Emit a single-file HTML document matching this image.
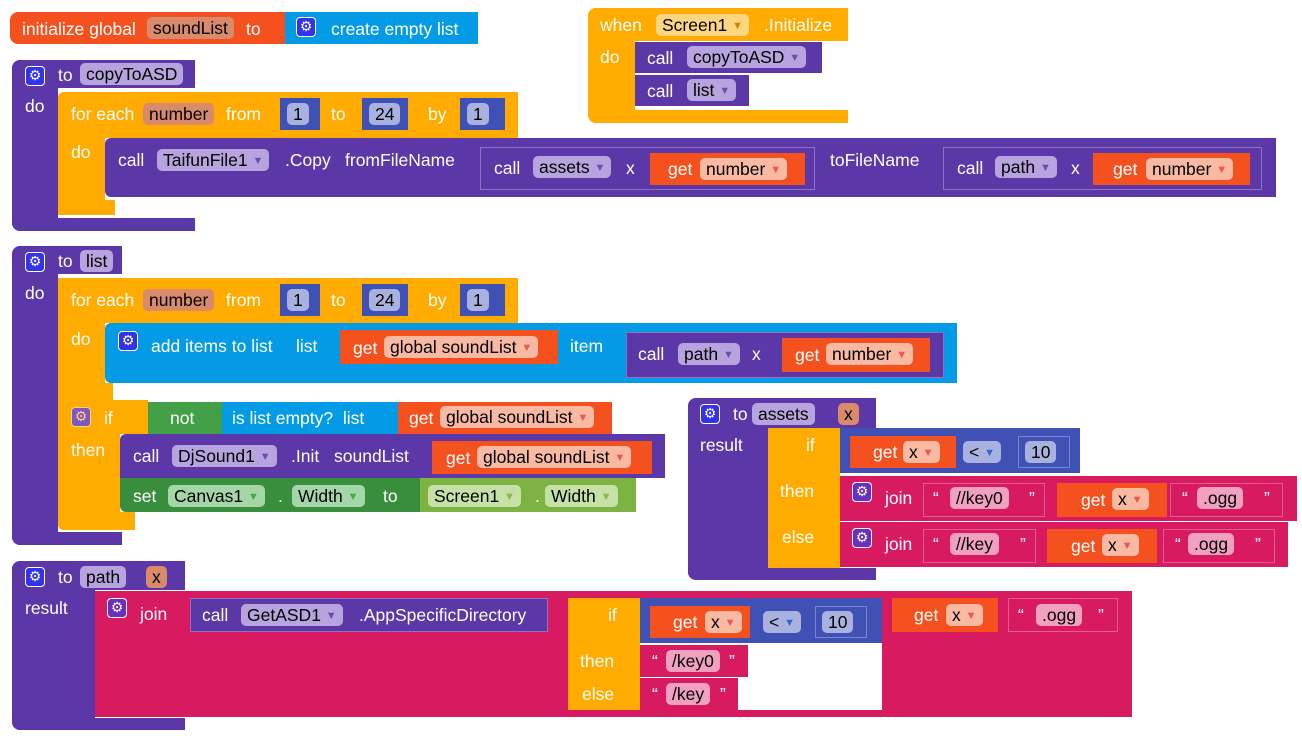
<!DOCTYPE html>
<html><head><meta charset="utf-8"><style>
body{margin:0;width:1302px;height:739px;background:#fff;position:relative;overflow:hidden;font-family:"Liberation Sans",sans-serif}
.r{position:absolute}
.t{position:absolute;color:#fff;font-size:17.5px;line-height:20px;white-space:nowrap}
.p{position:absolute;height:22px;line-height:22px;border-radius:5px;color:#000;font-size:17.5px;padding:0 6px;white-space:nowrap}
.p small{font-size:11px;color:#6a50a8;vertical-align:2px}
.g{position:absolute;width:18px;height:18px;border:1px solid #fff;border-radius:4px;background:#3333ee;color:#fff;font:14px/18px "DejaVu Sans",sans-serif;text-align:center}
.gp{background:#6a2fc0}
.pu{background:#5b37a8}.or{background:#ffab00}.vo{background:#f4511e}.bl{background:#039be5}
.ma{background:#3f51b5}.pk{background:#d81b60}.gr{background:#388e3c}.lg{background:#7cb342}
.in{border:1px solid rgba(255,255,255,.3);box-sizing:border-box}
.pl{background:#b7a4de}.pn{background:#d98a6b}.pg{background:#f9b9a3}.pm{background:#a9b2de}.ps{background:#f1a0bf}
.pgr{background:#a5d6a7}.plg{background:#c5e1a5}.py{background:#ffd680}
</style></head><body>

<!-- init global -->
<div class="r vo" style="left:10px;top:12px;width:275px;height:32px;border-radius:8px 0 0 8px"></div>
<div class="t" style="left:22px;top:19px">initialize global</div>
<div class="p pn" style="left:147px;top:17px">soundList</div>
<div class="t" style="left:246px;top:19px">to</div>
<div class="r bl" style="left:285px;top:12px;width:193px;height:32px"></div>
<div class="g" style="left:296px;top:17px">⚙</div>
<div class="t" style="left:331px;top:19px">create empty list</div>

<!-- copyToASD -->
<div class="r pu" style="left:12px;top:60px;width:183px;height:28px;border-radius:8px 0 0 0"></div>
<div class="r pu" style="left:12px;top:60px;width:46px;height:171px;border-radius:8px 0 0 8px"></div>
<div class="r pu" style="left:12px;top:218px;width:183px;height:13px;border-radius:0 0 0 8px"></div>
<div class="g" style="left:25px;top:66px">⚙</div>
<div class="t" style="left:58px;top:65px">to</div>
<div class="p pl" style="left:80px;top:63px">copyToASD</div>
<div class="t" style="left:25px;top:96px">do</div>
<div class="r or" style="left:58px;top:92px;width:460px;height:46px;border-radius:6px 0 0 0"></div>
<div class="r or" style="left:58px;top:92px;width:47px;height:123px;border-radius:6px 0 0 6px"></div>
<div class="r or" style="left:58px;top:200px;width:57px;height:15px"></div>
<div class="t" style="left:71px;top:104px">for each</div>
<div class="p pn" style="left:143px;top:103px">number</div>
<div class="t" style="left:226px;top:104px">from</div>
<div class="r ma" style="left:280px;top:98px;width:40px;height:32px"></div><div class="p pm" style="left:287px;top:103px">1</div>
<div class="t" style="left:331px;top:104px">to</div>
<div class="r ma" style="left:362px;top:98px;width:46px;height:32px"></div><div class="p pm" style="left:369px;top:103px">24</div>
<div class="t" style="left:428px;top:104px">by</div>
<div class="r ma" style="left:460px;top:98px;width:45px;height:32px"></div><div class="p pm" style="left:467px;top:103px">1</div>
<div class="t" style="left:71px;top:142px">do</div>
<div class="r pu" style="left:105px;top:138px;width:1171px;height:59px;border-radius:6px 0 0 6px"></div>
<div class="t" style="left:118px;top:150px">call</div>
<div class="p pl" style="left:157px;top:149px">TaifunFile1 <small>▼</small></div>
<div class="t" style="left:285px;top:150px">.Copy</div>
<div class="t" style="left:345px;top:150px">fromFileName</div>
<div class="r pu in" style="left:480px;top:147px;width:335px;height:43px"></div>
<div class="t" style="left:494px;top:158px">call</div>
<div class="p pl" style="left:533px;top:156px">assets <small>▼</small></div>
<div class="t" style="left:626px;top:158px">x</div>
<div class="r vo" style="left:650px;top:153px;width:155px;height:32px"></div>
<div class="t" style="left:668px;top:159px">get</div>
<div class="p pg" style="left:700px;top:158px">number <small style="color:#e55">▼</small></div>
<div class="t" style="left:830px;top:150px">toFileName</div>
<div class="r pu in" style="left:943px;top:147px;width:319px;height:43px"></div>
<div class="t" style="left:957px;top:158px">call</div>
<div class="p pl" style="left:995px;top:156px">path <small>▼</small></div>
<div class="t" style="left:1071px;top:158px">x</div>
<div class="r vo" style="left:1093px;top:153px;width:157px;height:32px"></div>
<div class="t" style="left:1113px;top:159px">get</div>
<div class="p pg" style="left:1146px;top:158px">number <small style="color:#e55">▼</small></div>

<!-- when Screen1.Initialize -->
<div class="r or" style="left:588px;top:8px;width:260px;height:33px;border-radius:8px 0 0 0"></div>
<div class="r or" style="left:588px;top:8px;width:47px;height:115px;border-radius:8px 0 0 8px"></div>
<div class="r or" style="left:588px;top:110px;width:260px;height:13px;border-radius:0 0 0 8px"></div>
<div class="t" style="left:600px;top:15px">when</div>
<div class="p py" style="left:656px;top:14px">Screen1 <small style="color:#c80">▼</small></div>
<div class="t" style="left:764px;top:15px">.Initialize</div>
<div class="t" style="left:600px;top:47px">do</div>
<div class="r pu" style="left:635px;top:42px;width:187px;height:31px"></div>
<div class="t" style="left:647px;top:48px">call</div>
<div class="p pl" style="left:687px;top:46px">copyToASD <small>▼</small></div>
<div class="r pu" style="left:635px;top:75px;width:114px;height:31px"></div>
<div class="t" style="left:647px;top:81px">call</div>
<div class="p pl" style="left:687px;top:79px">list <small>▼</small></div>

<!-- to list -->
<div class="r pu" style="left:12px;top:246px;width:110px;height:28px;border-radius:8px 0 0 0"></div>
<div class="r pu" style="left:12px;top:246px;width:46px;height:299px;border-radius:8px 0 0 8px"></div>
<div class="r pu" style="left:12px;top:532px;width:110px;height:13px;border-radius:0 0 0 8px"></div>
<div class="g" style="left:25px;top:252px">⚙</div>
<div class="t" style="left:58px;top:251px">to</div>
<div class="p pl" style="left:80px;top:250px">list</div>
<div class="t" style="left:25px;top:283px">do</div>
<div class="r or" style="left:58px;top:278px;width:460px;height:45px;border-radius:6px 0 0 0"></div>
<div class="r or" style="left:58px;top:278px;width:47px;height:122px"></div>
<div class="r or" style="left:58px;top:383px;width:55px;height:17px"></div>
<div class="t" style="left:71px;top:290px">for each</div>
<div class="p pn" style="left:143px;top:289px">number</div>
<div class="t" style="left:226px;top:290px">from</div>
<div class="r ma" style="left:280px;top:284px;width:40px;height:32px"></div><div class="p pm" style="left:287px;top:289px">1</div>
<div class="t" style="left:331px;top:290px">to</div>
<div class="r ma" style="left:362px;top:284px;width:46px;height:32px"></div><div class="p pm" style="left:369px;top:289px">24</div>
<div class="t" style="left:428px;top:290px">by</div>
<div class="r ma" style="left:460px;top:284px;width:45px;height:32px"></div><div class="p pm" style="left:467px;top:289px">1</div>
<div class="t" style="left:71px;top:329px">do</div>
<div class="r bl" style="left:105px;top:323px;width:852px;height:60px;border-radius:6px 0 0 6px"></div>
<div class="g" style="left:118px;top:331px">⚙</div>
<div class="t" style="left:151px;top:336px">add items to list</div>
<div class="t" style="left:296px;top:336px">list</div>
<div class="r vo" style="left:340px;top:330px;width:218px;height:34px"></div>
<div class="t" style="left:353px;top:338px">get</div>
<div class="p pg" style="left:384px;top:336px">global soundList <small style="color:#e55">▼</small></div>
<div class="t" style="left:570px;top:336px">item</div>
<div class="r pu in" style="left:626px;top:332px;width:318px;height:46px"></div>
<div class="t" style="left:638px;top:344px">call</div>
<div class="p pl" style="left:678px;top:343px">path <small>▼</small></div>
<div class="t" style="left:752px;top:344px">x</div>
<div class="r vo" style="left:782px;top:338px;width:148px;height:34px"></div>
<div class="t" style="left:795px;top:345px">get</div>
<div class="p pg" style="left:826px;top:343px">number <small style="color:#e55">▼</small></div>

<div class="r or" style="left:58px;top:400px;width:90px;height:34px"></div>
<div class="r or" style="left:58px;top:400px;width:62px;height:130px;border-radius:0 0 0 6px"></div>
<div class="r or" style="left:58px;top:512px;width:77px;height:18px;border-radius:0 0 0 6px"></div>
<div class="g" style="left:71px;top:407px;background:#7e57c2;border-color:#ffd07a;color:#ffd07a">⚙</div>
<div class="t" style="left:104px;top:408px">if</div>
<div class="t" style="left:71px;top:440px">then</div>
<div class="r" style="left:148px;top:402px;width:74px;height:32px;background:#43a047"></div>
<div class="t" style="left:170px;top:408px">not</div>
<div class="r bl" style="left:222px;top:402px;width:176px;height:32px"></div>
<div class="t" style="left:232px;top:408px">is list empty?&nbsp; list</div>
<div class="r vo" style="left:398px;top:402px;width:214px;height:32px"></div>
<div class="t" style="left:409px;top:408px">get</div>
<div class="p pg" style="left:440px;top:406px">global soundList <small style="color:#e55">▼</small></div>
<div class="r pu" style="left:120px;top:434px;width:545px;height:44px;border-radius:6px 0 0 0"></div>
<div class="t" style="left:133px;top:446px">call</div>
<div class="p pl" style="left:172px;top:445px">DjSound1 <small>▼</small></div>
<div class="t" style="left:291px;top:446px">.Init</div>
<div class="t" style="left:334px;top:446px">soundList</div>
<div class="r vo" style="left:432px;top:441px;width:220px;height:33px"></div>
<div class="t" style="left:446px;top:448px">get</div>
<div class="p pg" style="left:477px;top:446px">global soundList <small style="color:#e55">▼</small></div>
<div class="r gr" style="left:120px;top:478px;width:300px;height:34px;border-radius:0 0 0 6px"></div>
<div class="t" style="left:133px;top:486px">set</div>
<div class="p pgr" style="left:168px;top:485px">Canvas1 <small style="color:#4a4">▼</small></div>
<div class="t" style="left:278px;top:486px">.</div>
<div class="p pgr" style="left:292px;top:485px">Width <small style="color:#4a4">▼</small></div>
<div class="t" style="left:383px;top:486px">to</div>
<div class="r lg" style="left:420px;top:478px;width:216px;height:34px"></div>
<div class="p plg" style="left:428px;top:485px">Screen1 <small style="color:#8b4">▼</small></div>
<div class="t" style="left:535px;top:486px">.</div>
<div class="p plg" style="left:545px;top:485px">Width <small style="color:#8b4">▼</small></div>

<!-- assets -->
<div class="r pu" style="left:688px;top:398px;width:188px;height:30px;border-radius:8px 0 0 0"></div>
<div class="r pu" style="left:688px;top:398px;width:80px;height:182px;border-radius:8px 0 0 8px"></div>
<div class="r pu" style="left:688px;top:568px;width:188px;height:12px;border-radius:0 0 0 8px"></div>
<div class="g" style="left:700px;top:404px">⚙</div>
<div class="t" style="left:733px;top:404px">to</div>
<div class="p pl" style="left:752px;top:403px">assets</div>
<div class="p pn" style="left:838px;top:403px">x</div>
<div class="t" style="left:700px;top:435px">result</div>
<div class="r or" style="left:768px;top:428px;width:72px;height:140px"></div>
<div class="t" style="left:806px;top:435px">if</div>
<div class="t" style="left:780px;top:481px">then</div>
<div class="t" style="left:782px;top:527px">else</div>
<div class="r ma" style="left:840px;top:428px;width:240px;height:45px"></div>
<div class="r vo" style="left:850px;top:436px;width:106px;height:32px"></div>
<div class="t" style="left:873px;top:442px">get</div>
<div class="p pg" style="left:903px;top:441px">x <small style="color:#e55">▼</small></div>
<div class="p pm" style="left:963px;top:441px">&lt; <small style="color:#36c">▼</small></div>
<div class="r ma in" style="left:1018px;top:436px;width:52px;height:32px"></div>
<div class="p pm" style="left:1025px;top:441px">10</div>
<div class="r pk" style="left:840px;top:476px;width:457px;height:45px"></div>
<div class="g gp" style="left:852px;top:482px">⚙</div>
<div class="t" style="left:885px;top:488px">join</div>
<div class="r pk in" style="left:923px;top:483px;width:122px;height:34px"></div>
<div class="t" style="left:933px;top:488px">“</div><div class="p ps" style="left:950px;top:487px">//key0</div><div class="t" style="left:1029px;top:488px">”</div>
<div class="r vo" style="left:1057px;top:483px;width:110px;height:34px"></div>
<div class="t" style="left:1081px;top:490px">get</div>
<div class="p pg" style="left:1112px;top:488px">x <small style="color:#e55">▼</small></div>
<div class="r pk in" style="left:1170px;top:483px;width:113px;height:34px"></div>
<div class="t" style="left:1182px;top:488px">“</div><div class="p ps" style="left:1197px;top:487px">.ogg</div><div class="t" style="left:1264px;top:488px">”</div>
<div class="r pk" style="left:840px;top:522px;width:448px;height:45px"></div>
<div class="g gp" style="left:852px;top:528px">⚙</div>
<div class="t" style="left:885px;top:534px">join</div>
<div class="r pk in" style="left:923px;top:529px;width:113px;height:34px"></div>
<div class="t" style="left:933px;top:534px">“</div><div class="p ps" style="left:950px;top:533px">//key</div><div class="t" style="left:1020px;top:534px">”</div>
<div class="r vo" style="left:1047px;top:529px;width:110px;height:34px"></div>
<div class="t" style="left:1071px;top:536px">get</div>
<div class="p pg" style="left:1102px;top:534px">x <small style="color:#e55">▼</small></div>
<div class="r pk in" style="left:1163px;top:529px;width:112px;height:34px"></div>
<div class="t" style="left:1175px;top:534px">“</div><div class="p ps" style="left:1188px;top:533px">.ogg</div><div class="t" style="left:1255px;top:534px">”</div>

<!-- path -->
<div class="r pu" style="left:12px;top:561px;width:173px;height:29px;border-radius:8px 0 0 0"></div>
<div class="r pu" style="left:12px;top:561px;width:83px;height:169px;border-radius:8px 0 0 8px"></div>
<div class="r pu" style="left:12px;top:718px;width:173px;height:12px;border-radius:0 0 0 8px"></div>
<div class="g" style="left:25px;top:567px">⚙</div>
<div class="t" style="left:58px;top:567px">to</div>
<div class="p pl" style="left:80px;top:566px">path</div>
<div class="p pn" style="left:146px;top:566px">x</div>
<div class="t" style="left:25px;top:598px">result</div>
<div class="r pk" style="left:95px;top:591px;width:1037px;height:126px"></div>
<div class="g gp" style="left:107px;top:598px">⚙</div>
<div class="t" style="left:140px;top:604px">join</div>
<div class="r pu in" style="left:190px;top:598px;width:358px;height:34px"></div>
<div class="t" style="left:202px;top:605px">call</div>
<div class="p pl" style="left:241px;top:604px">GetASD1 <small>▼</small></div>
<div class="t" style="left:359px;top:605px">.AppSpecificDirectory</div>
<div class="r or" style="left:568px;top:598px;width:72px;height:112px"></div>
<div class="t" style="left:608px;top:605px">if</div>
<div class="t" style="left:580px;top:651px">then</div>
<div class="t" style="left:582px;top:684px">else</div>
<div class="r ma" style="left:640px;top:598px;width:242px;height:45px"></div>
<div class="r vo" style="left:650px;top:606px;width:100px;height:32px"></div>
<div class="t" style="left:673px;top:612px">get</div>
<div class="p pg" style="left:705px;top:611px">x <small style="color:#e55">▼</small></div>
<div class="p pm" style="left:763px;top:611px">&lt; <small style="color:#36c">▼</small></div>
<div class="r ma in" style="left:815px;top:606px;width:52px;height:32px"></div>
<div class="p pm" style="left:822px;top:611px">10</div>
<div class="r" style="left:640px;top:643px;width:242px;height:67px;background:#fff"></div>
<div class="r pk" style="left:640px;top:645px;width:108px;height:32px"></div>
<div class="t" style="left:652px;top:651px">“</div><div class="p ps" style="left:666px;top:650px">/key0</div><div class="t" style="left:729px;top:651px">”</div>
<div class="r pk" style="left:640px;top:678px;width:98px;height:32px"></div>
<div class="t" style="left:652px;top:684px">“</div><div class="p ps" style="left:666px;top:683px">/key</div><div class="t" style="left:720px;top:684px">”</div>
<div class="r vo" style="left:892px;top:598px;width:106px;height:34px"></div>
<div class="t" style="left:914px;top:605px">get</div>
<div class="p pg" style="left:946px;top:604px">x <small style="color:#e55">▼</small></div>
<div class="r pk in" style="left:1008px;top:598px;width:110px;height:34px"></div>
<div class="t" style="left:1018px;top:605px">“</div><div class="p ps" style="left:1036px;top:604px">.ogg</div><div class="t" style="left:1098px;top:605px">”</div>

</body></html>
